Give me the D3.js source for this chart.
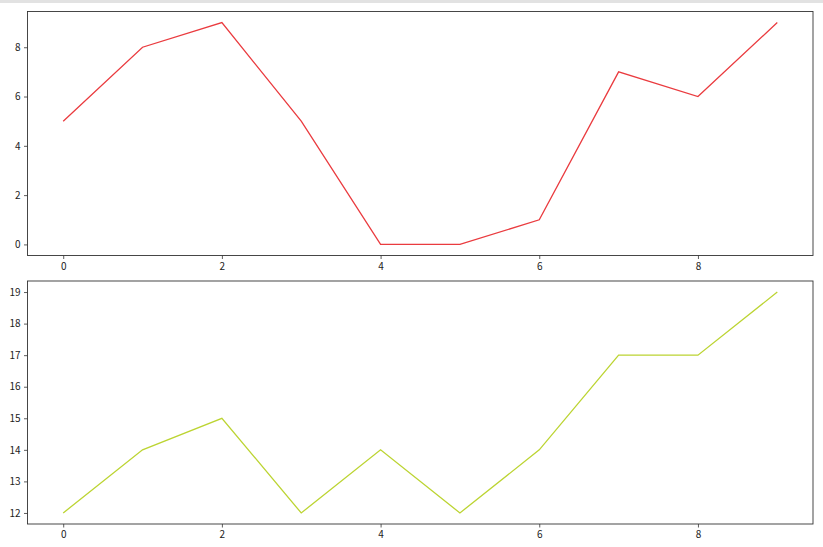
<!DOCTYPE html>
<html><head><meta charset="utf-8">
<script src="https://cdn.jsdelivr.net/npm/d3@7"></script>
<style>body{margin:0;background:#fff}svg{display:block}</style>
</head><body>
<script>
const xValues = [0,1,2,3,4,5,6,7,8,9];
const topSeries = [5,8,9,5,0,0,1,7,6,9];
const bottomSeries = [12,14,15,12,14,12,14,17,17,19];
const xTicks = [0,2,4,6,8];
const topTicks = [0,2,4,6,8];
const bottomTicks = [12,13,14,15,16,17,18,19];

const W = 823, H = 547;
const svg = d3.select("body").append("svg").attr("width", W).attr("height", H);
svg.append("rect").attr("width", W).attr("height", H).attr("fill", "#fff");
svg.append("rect").attr("width", W).attr("height", 3).attr("fill", "#e2e2e2");

const left = 27.5, right = 813;
const panels = [
  {data: topSeries, ticks: topTicks, top: 11.5, bottom: 255.5, color: "#ea3b3f"},
  {data: bottomSeries, ticks: bottomTicks, top: 281, bottom: 524, color: "#bcd432"}
];
const font = "'Noto Sans CJK SC', 'DejaVu Sans', sans-serif";

panels.forEach(p => {
  const xmin = d3.min(xValues), xmax = d3.max(xValues);
  const xpad = (xmax - xmin) * 0.05;
  const x = d3.scaleLinear().domain([xmin - xpad, xmax + xpad]).range([left, right]);
  const ymin = d3.min(p.data), ymax = d3.max(p.data);
  const ypad = (ymax - ymin) * 0.05;
  const y = d3.scaleLinear().domain([ymin - ypad, ymax + ypad]).range([p.bottom, p.top]);
  const g = svg.append("g");
  const xa = g.append("g").attr("transform", `translate(0,${p.bottom})`)
    .call(d3.axisBottom(x).tickValues(xTicks).tickSize(3.5).tickPadding(3.5).tickFormat(d3.format("d")));
  const ya = g.append("g").attr("transform", `translate(${left},0)`)
    .call(d3.axisLeft(y).tickValues(p.ticks).tickSize(3.5).tickPadding(3.5).tickFormat(d3.format("d")));
  [xa, ya].forEach(a => {
    a.select(".domain").remove();
    a.selectAll("line").attr("stroke", "#333").attr("stroke-width", 0.8);
    a.selectAll("text").attr("fill", "#222").style("font-family", font).style("font-size", "10px");
  });
  g.append("path").datum(xValues.map((v,i)=>[v,p.data[i]]))
    .attr("fill","none").attr("stroke",p.color).attr("stroke-width",1.3)
    .attr("d", d3.line().x(d=>x(d[0])).y(d=>y(d[1])));
  g.append("rect").attr("x", left).attr("y", p.top).attr("width", right-left).attr("height", p.bottom-p.top)
    .attr("fill","none").attr("stroke","#333").attr("stroke-width",0.9);
});
</script>
</body></html>
